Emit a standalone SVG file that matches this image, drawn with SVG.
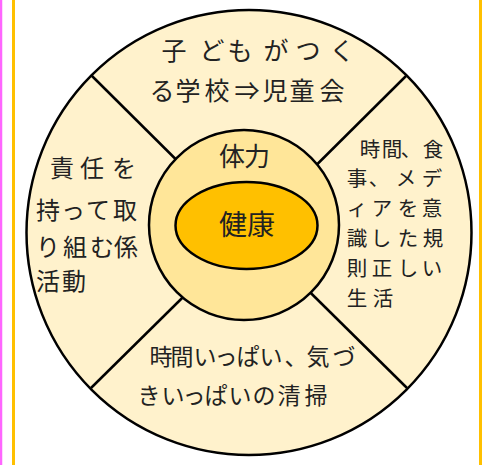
<svg xmlns="http://www.w3.org/2000/svg" width="486" height="465" viewBox="0 0 486 465">
<style>
.t{font-family:"Noto Sans CJK JP","Noto Sans CJK SC",sans-serif;fill:#222;text-anchor:middle}
.ln{stroke:#000;stroke-width:2.5;fill:none}
</style>
<rect x="0" y="0" width="486" height="465" fill="#fff"/>
<line x1="1" y1="0" x2="1" y2="465" stroke="#ff66ff" stroke-width="2.5"/>
<line x1="13.5" y1="0" x2="13.5" y2="465" stroke="#ffc000" stroke-width="3"/>
<line x1="480.5" y1="0" x2="480.5" y2="465" stroke="#ffc000" stroke-width="3"/>
<g id="outer">
<circle cx="249" cy="232.5" r="222.5" fill="#fff2cc" stroke="#000" stroke-width="2.5"/>
</g>
<g id="connectors">
<line class="ln" x1="91" y1="75" x2="249" y2="232"/>
<line class="ln" x1="406" y1="76" x2="249" y2="232"/>
<line class="ln" x1="91" y1="388" x2="249" y2="232"/>
<line class="ln" x1="407" y1="388" x2="249" y2="232"/>
</g>
<g id="top">
<text class="t" font-size="25" y="60" x="174 212 240 276 308 342">子どもがつく</text>
<text class="t" font-size="25" y="100" x="162 188 217 247 275 302 332">る学校⇒児童会</text>
</g>
<g id="left">
<text class="t" font-size="24" y="177" x="62 77 92 108 124">責 任 を</text>
<text class="t" font-size="24" y="219" x="48 73 98 125">持って取</text>
<text class="t" font-size="24" y="256" x="48 75 102 126">り組む係</text>
<text class="t" font-size="24" y="290" x="48 74">活動</text>
</g>
<g id="right">
<text class="t" font-size="20.5" y="156.5" x="370 392 411 433">時間、食</text>
<text class="t" font-size="20.5" y="186.3" x="357 379 406 432">事、メデ</text>
<text class="t" font-size="20.5" y="216.1" x="357 382 408 432">ィアを意</text>
<text class="t" font-size="20.5" y="245.9" x="357 381 408 433">識した規</text>
<text class="t" font-size="20.5" y="275.7" x="357 382 408 432">則正しい</text>
<text class="t" font-size="20.5" y="305.5" x="357 383">生活</text>
</g>
<g id="bottom">
<text class="t" font-size="23" y="365" x="161 182 205 226 248 271 296 318 344">時間いっぱい、気づ</text>
<text class="t" font-size="23" y="404" x="149 173 194 216 240 264 289 316">きいっぱいの清掃</text>
</g>
<g id="tairyoku">
<circle cx="244" cy="225" r="95" fill="#ffe699" stroke="#000" stroke-width="2.5"/>
<text class="t" font-size="26" y="166" x="232 257">体力</text>
</g>
<g id="kenko">
<ellipse cx="246.5" cy="225.5" rx="71" ry="43.5" fill="#ffc000" stroke="#000" stroke-width="2.5"/>
<text class="t" font-size="28" y="235" x="233 261">健康</text>
</g>
</svg>
